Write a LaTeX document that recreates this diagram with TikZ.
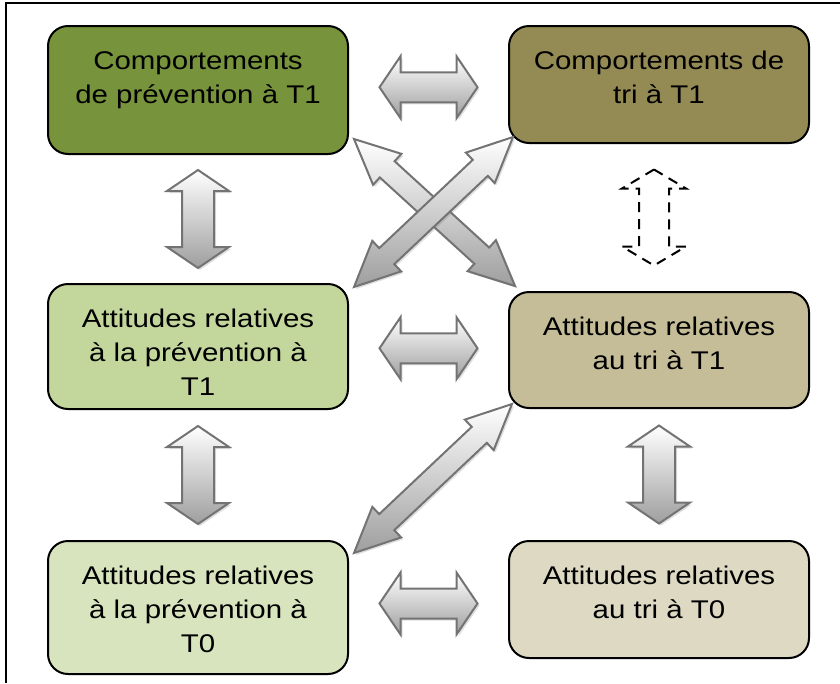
\documentclass[tikz,border=0pt]{standalone}
\usepackage{fontspec}
\setmainfont{Liberation Sans}[FakeStretch=1.15]
\usetikzlibrary{calc,shadows}

\definecolor{prevdark}{HTML}{77933C}
\definecolor{tridark}{HTML}{948A54}
\definecolor{prevmid}{HTML}{C3D69B}
\definecolor{trimid}{HTML}{C4BD97}
\definecolor{prevlight}{HTML}{D7E4BD}
\definecolor{trilight}{HTML}{DDD9C3}

\tikzset{
  cell/.style={draw=black, line width=2pt, rounded corners=20pt, inner sep=0pt,
    anchor=north west, minimum width=300pt, font=\fontsize{25.6}{34}\selectfont},
  fatarrow/.style={draw=black!55, line width=2pt, top color=white, bottom color=black!38,
    drop shadow={shadow xshift=2pt, shadow yshift=-2pt, opacity=.25}},
  dasharrow/.style={draw=black, line width=2pt, dash pattern=on 10pt off 7pt}
}

% text of a box, set from the top
\newcommand\celltext[2]{\parbox[t][#1][t]{290pt}{\centering\rule{0pt}{43pt}#2}}

% block arrow: style, tip, tip, shaft half width, head half width, head length
\newcommand\blockarrow[6]{%
  \coordinate (ba-s) at (#2);
  \coordinate (ba-e) at (#3);
  \coordinate (ba-a) at ($(ba-s)!#6!(ba-e)$);
  \coordinate (ba-b) at ($(ba-e)!#6!(ba-s)$);
  \path[#1] (ba-s) -- ($(ba-a)!#5!90:(ba-e)$) -- ($(ba-a)!#4!90:(ba-e)$)
    -- ($(ba-b)!#4!-90:(ba-s)$) -- ($(ba-b)!#5!-90:(ba-s)$) -- (ba-e)
    -- ($(ba-b)!#5!90:(ba-s)$) -- ($(ba-b)!#4!90:(ba-s)$)
    -- ($(ba-a)!#4!-90:(ba-e)$) -- ($(ba-a)!#5!-90:(ba-e)$) -- cycle;
}

\begin{document}
\begin{tikzpicture}[x=1pt,y=-1pt]
    \useasboundingbox (0,0) rectangle (840,683);
    \draw[line width=2pt] (6,683) -- (6,3) -- (840,3);

    \node[cell, fill=prevdark] (prevC) at (47,25) {\celltext{128pt}{Comportements\\de prévention à T1}};
    \node[cell, fill=tridark] (triC) at (508,25) {\celltext{117pt}{Comportements de\\tri à T1}};
    \node[cell, fill=prevmid] (prevA1) at (47,283) {\celltext{125pt}{Attitudes relatives\\à la prévention à\\T1}};
    \node[cell, fill=trimid] (triA1) at (508,291) {\celltext{116pt}{Attitudes relatives\\au tri à T1}};
    \node[cell, fill=prevlight] (prevA0) at (47,540) {\celltext{133pt}{Attitudes relatives\\à la prévention à\\T0}};
    \node[cell, fill=trilight] (triA0) at (508,540) {\celltext{117pt}{Attitudes relatives\\au tri à T0}};

    % between the columns
    \coordinate (h1) at ($(prevC.east)!.5!(triC.west)$);
    \coordinate (h2) at ($(prevA1.east)!.5!(triA1.west)$);
    \coordinate (h3) at ($(prevA0.east)!.5!(triA0.west)$);
    \blockarrow{fatarrow}{$(h1)+(-49,0)$}{$(h1)+(49,0)$}{15pt}{31pt}{21pt}
    \blockarrow{fatarrow}{$(h2)+(-49,0)$}{$(h2)+(49,0)$}{15pt}{31pt}{21pt}
    \blockarrow{fatarrow}{$(h3)+(-49,0)$}{$(h3)+(49,0)$}{15pt}{31pt}{21pt}

    % between the rows
    \coordinate (v1) at ($(prevC.south)!.5!(prevA1.north)$);
    \coordinate (v2) at ($(prevA1.south)!.5!(prevA0.north)$);
    \coordinate (v3) at ($(triC.south)!.5!(triA1.north)$);
    \coordinate (v4) at ($(triA1.south)!.5!(triA0.north)$);
    \blockarrow{fatarrow}{$(v1)+(0,-49)$}{$(v1)+(0,49)$}{16pt}{31pt}{21pt}
    \blockarrow{fatarrow}{$(v2)+(0,-49)$}{$(v2)+(0,49)$}{16pt}{31pt}{21pt}
    \blockarrow{dasharrow}{$(v3)+(-5,-48)$}{$(v3)+(-5,48)$}{15pt}{32pt}{19pt}
    \blockarrow{fatarrow}{$(v4)+(0,-49)$}{$(v4)+(0,49)$}{16pt}{31pt}{21pt}

    % crossing
    \blockarrow{fatarrow}{$(prevC.south east)+(5,-16)$}{$(triA1.north west)+(7,-5)$}{11pt}{21pt}{45pt}
    \blockarrow{fatarrow}{$(prevA1.north east)+(5,4)$}{$(triC.south west)+(5,-7)$}{11pt}{21pt}{45pt}
    \blockarrow{fatarrow}{$(prevA0.north east)+(5,13)$}{$(triA1.south west)+(4,-5)$}{11pt}{21pt}{45pt}
\end{tikzpicture}
\end{document}
